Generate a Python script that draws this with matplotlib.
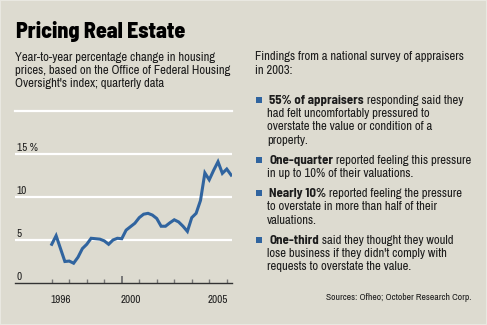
import matplotlib.pyplot as plt
import numpy as np

# quarterly year-to-year change in house prices, 1996Q1 .. 2006Q2
start_year = 1996.0
pct_change = [4.5, 5.5, 4.0, 2.5, 2.55, 2.3, 3.0, 4.0, 4.5, 5.2, 5.15, 5.1,
              4.9, 4.5, 5.0, 5.2, 5.15, 6.15, 6.55, 6.95, 7.6, 8.0, 8.1, 7.9,
              7.5, 6.6, 6.6, 7.0, 7.35, 7.1, 6.6, 6.0, 7.6, 8.1, 9.6, 12.8,
              12.0, 13.1, 14.1, 12.75, 13.25, 12.55]
years = start_year + np.arange(len(pct_change)) / 4.0

grid_vals = [5, 10, 15]
ytick_labels = ['0', '5', '10', '15 %']
ytick_vals = [0, 5, 10, 15]
tick_years = list(range(1996, 2007))
label_years = [1996, 2000, 2005]

subtitle = ["Year-to-year percentage change in housing",
            "prices, based on the Office of Federal Housing",
            "Oversight's index; quarterly data"]
intro = ["Findings from a national survey of appraisers", "in 2003:"]
bullets = [
    ("55% of appraisers", [" responding said they", "had felt uncomfortably pressured to",
                           "overstate the value or condition of a", "property."]),
    ("One-quarter", [" reported feeling this pressure", "in up to 10% of their valuations."]),
    ("Nearly 10%", [" reported feeling the pressure", "to overstate in more than half of their",
                    "valuations."]),
    ("One-third", [" said they thought they would", "lose business if they didn't comply with",
                   "requests to overstate the value."]),
]
bullet_baselines = [103.5, 163.8, 197, 243.5]
source = "Sources: Ofheo; October Research Corp."

BG = '#dddbd0'
BLUE = '#30649f'
INK = '#1c1c1c'
FONT = ['Archivo Narrow', 'DejaVu Sans']
BOLD = ['Barlow Semi Condensed', 'DejaVu Sans']
W, H = 487, 325

fig = plt.figure(figsize=(W / 100, H / 100), dpi=100, facecolor=BG)


def fx(x):
    return x / W


def fy(y):
    return 1 - y / H


# chart area: left 15px, right 232px, zero line at 283px, 8.6px per point
ax = fig.add_axes([fx(15), fy(283), 217 / W, 143 / H])
ax.set_facecolor(BG)
ax.set_xlim(1993.9, 2006.3)
ax.set_ylim(0, 143 / 8.6)
for v in grid_vals:
    ax.axhline(v, color='white', lw=1.6, zorder=1)
ax.plot(years, pct_change, color=BLUE, lw=2.2, solid_joinstyle='miter', zorder=3)

for s in ['top', 'left', 'right']:
    ax.spines[s].set_visible(False)
ax.spines['bottom'].set_color('#333333')
ax.spines['bottom'].set_linewidth(1.0)
ax.set_yticks([])
ax.set_xticks(tick_years)
ax.set_xticklabels([])
ax.tick_params(axis='x', direction='in', length=3, width=1, color='#777777')
for t in ax.xaxis.get_major_ticks():
    if abs(t.get_loc() - 2000) < 0.01:
        t.tick1line.set_markersize(5)
        t.tick1line.set_markeredgewidth(1.4)

for yr in label_years:
    ax.annotate(str(yr), xy=(yr + 0.5, 0), xycoords=('data', 'data'),
                xytext=(0, -14.5), textcoords='offset points', ha='center',
                va='baseline', fontsize=8, color=INK, family=FONT)
for v, lab in zip(ytick_vals, ytick_labels):
    ax.annotate(lab, xy=(0.008, v), xycoords=('axes fraction', 'data'),
                xytext=(0, 2.2), textcoords='offset points', ha='left',
                va='baseline', fontsize=8, color=INK, family=FONT)

# title block
fig.text(fx(15.5), fy(37.7), "Pricing Real Estate", fontsize=15.8, fontweight=800,
         color='black', family=BOLD, va='baseline')
for i, line in enumerate(subtitle):
    fig.text(fx(15), fy(61 + 13.2 * i), line, fontsize=9.1, color=INK, family=FONT,
             va='baseline')
fig.add_artist(plt.Line2D([fx(15), fx(232)], [fy(110.5), fy(110.5)], color='white',
                          lw=1.6))

# right column
for i, line in enumerate(intro):
    fig.text(fx(255), fy(60.5 + 13.5 * i), line, fontsize=9.1, color=INK, family=FONT,
             va='baseline')

renderer = fig.canvas.get_renderer()
for (bold, rest), base in zip(bullets, bullet_baselines):
    fig.add_artist(plt.Rectangle((fx(256), fy(base - 1)), 6 / W, 6 / H,
                                 transform=fig.transFigure, color=BLUE, lw=0))
    bt = fig.text(fx(269), fy(base), bold, fontsize=9.3, fontweight=700, color=INK,
                  family=BOLD, va='baseline')
    bw = bt.get_window_extent(renderer).width
    fig.text(fx(269 + bw), fy(base), rest[0], fontsize=9.1, color=INK, family=FONT,
             va='baseline')
    for j, line in enumerate(rest[1:], start=1):
        fig.text(fx(267), fy(base + 13.4 * j), line, fontsize=9.1, color=INK,
                 family=FONT, va='baseline')

fig.text(fx(472), fy(300), source, fontsize=6.9, color=INK, family=FONT,
         ha='right', va='baseline')

fig.add_artist(plt.Rectangle((0, 0), 1, 1, transform=fig.transFigure, fill=False,
                             edgecolor='#e9e8e1', lw=1.5))

fig.savefig('out.png', dpi=100, facecolor=BG)
